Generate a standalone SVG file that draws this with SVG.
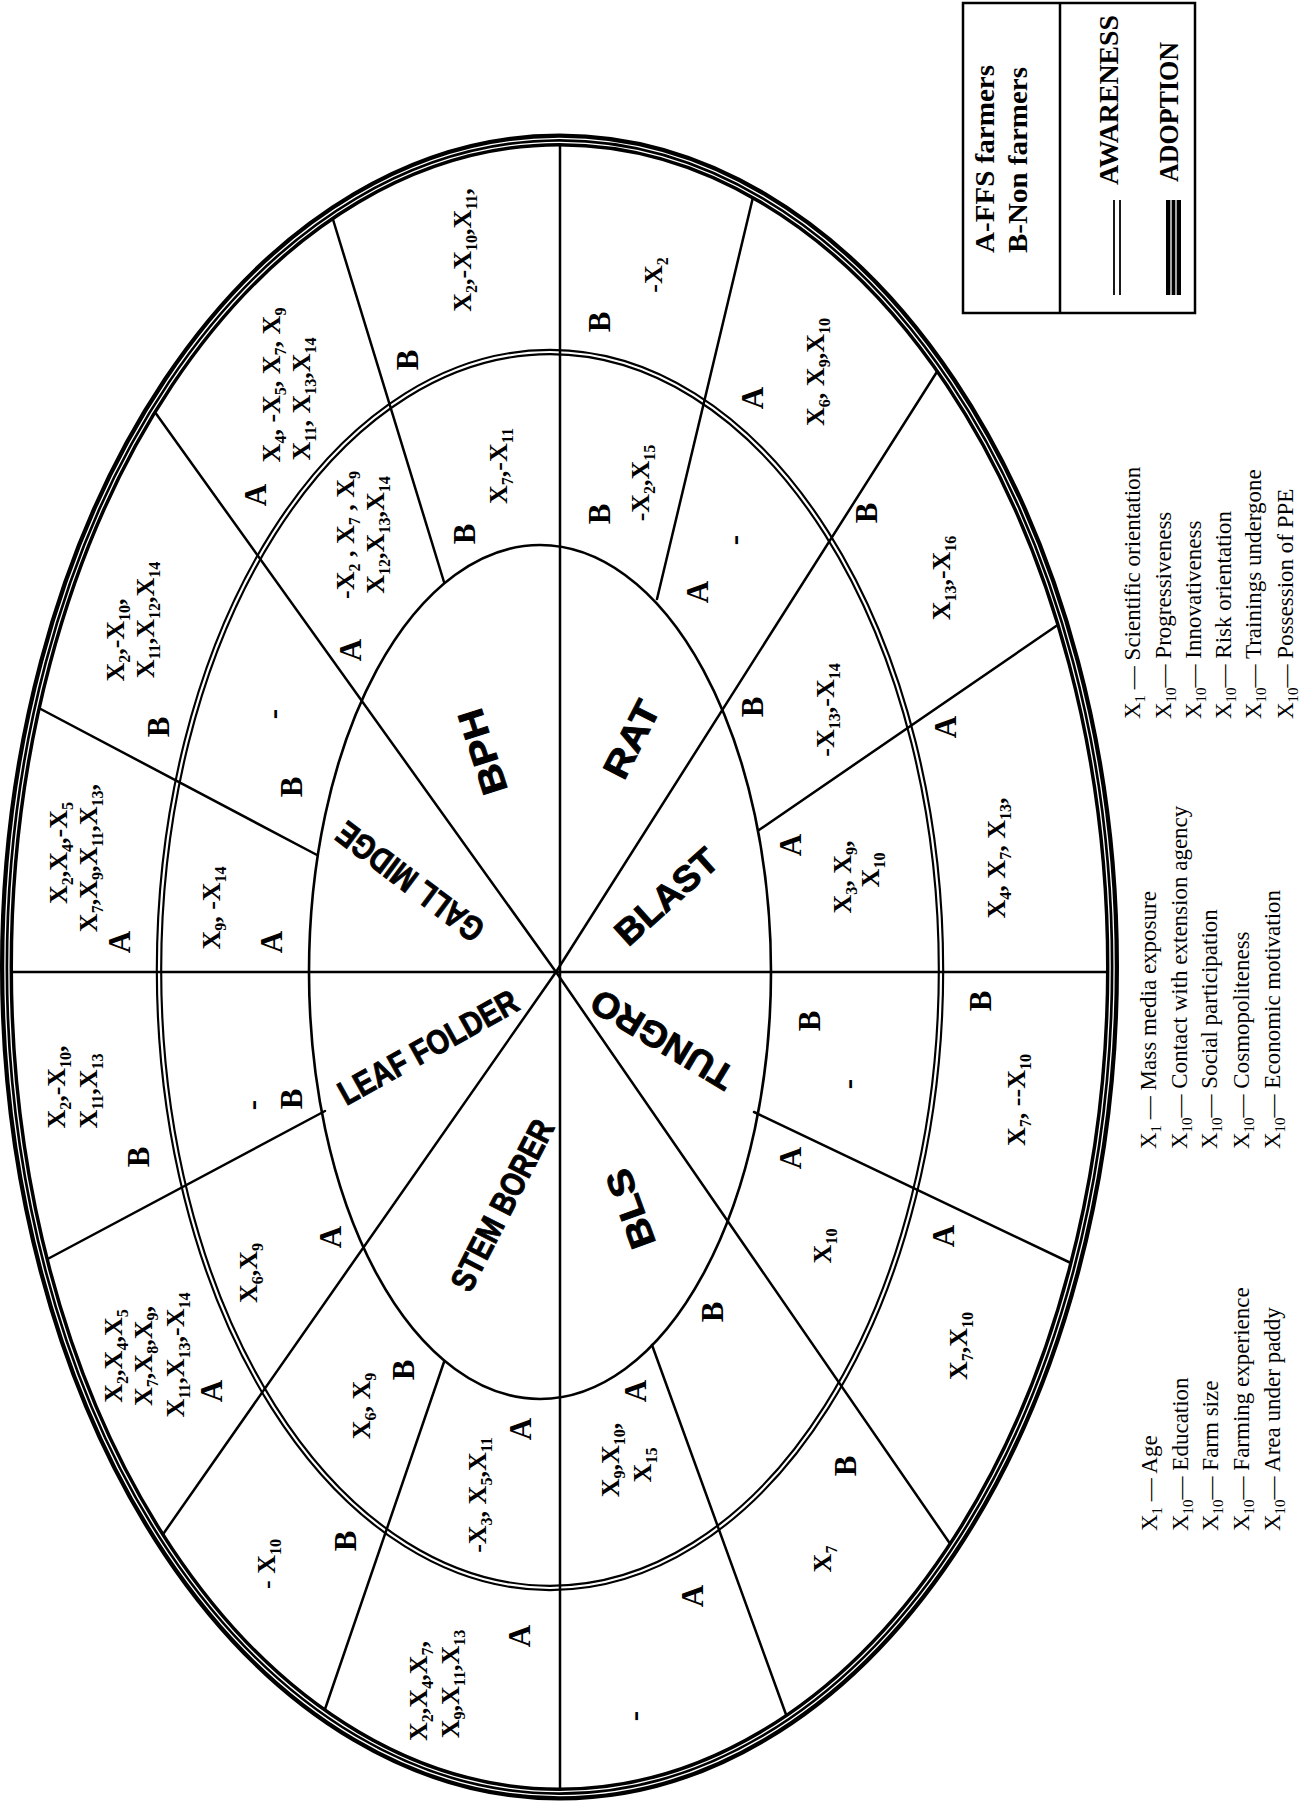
<svg xmlns="http://www.w3.org/2000/svg" width="1313" height="1809" viewBox="0 0 1313 1809">
<style>
.t{font-family:"Liberation Serif","Times New Roman",serif;font-weight:700;font-size:26px;text-anchor:middle;fill:#000}
.ab{font-size:31px}
.s{font-size:16px}
.lbl{font-family:"Liberation Sans",Arial,sans-serif;font-weight:700;font-size:36px;text-anchor:middle;fill:#000;stroke:#000;stroke-width:0.9}
.lb{font-family:"Liberation Serif","Times New Roman",serif;font-weight:700;font-size:28px;text-anchor:middle;fill:#000}
.lg{font-family:"Liberation Serif","Times New Roman",serif;font-size:23px;text-anchor:start;fill:#000}
.ls{font-size:15px}
.ln{stroke:#000;stroke-width:2.5;fill:none;stroke-linecap:round}
.bk{fill:none;stroke:#000}
.wh{fill:none;stroke:#fff}
</style>
<rect width="1313" height="1809" fill="#fff"/>
<g id="rings-under">
<ellipse class="bk" cx="550" cy="970" rx="391" ry="618" stroke-width="6.5"/>
<ellipse class="wh" cx="550" cy="970" rx="391" ry="618" stroke-width="2.2"/>
<ellipse class="bk" cx="540" cy="972" rx="231" ry="427" stroke-width="2.6"/>
</g>
<g id="connectors">
<line class="ln" x1="560" y1="140" x2="560" y2="1794"/>
<line class="ln" x1="7" y1="972" x2="1112" y2="972"/>
<line class="ln" x1="556" y1="972" x2="152" y2="408"/>
<line class="ln" x1="556" y1="972" x2="940" y2="367"/>
<line class="ln" x1="556" y1="972" x2="953" y2="1548"/>
<line class="ln" x1="556" y1="972" x2="159" y2="1540"/>
<line class="ln" x1="444" y1="582" x2="331" y2="213"/>
<line class="ln" x1="657" y1="599" x2="754" y2="193"/>
<line class="ln" x1="759" y1="830" x2="1062" y2="622"/>
<line class="ln" x1="754" y1="1112" x2="1075" y2="1265"/>
<line class="ln" x1="652" y1="1345" x2="788" y2="1720"/>
<line class="ln" x1="444" y1="1362" x2="323" y2="1715"/>
<line class="ln" x1="325" y1="1111" x2="42" y2="1262"/>
<line class="ln" x1="317" y1="855" x2="35" y2="706"/>
</g>
<g id="outer-ring">
<ellipse class="bk" cx="559.5" cy="967" rx="553" ry="827" stroke-width="13"/>
<ellipse class="wh" cx="559.5" cy="967" rx="554.6" ry="828.6" stroke-width="1.3"/>
<ellipse class="wh" cx="559.5" cy="967" rx="550.6" ry="824.6" stroke-width="1.3"/>
</g>

<g id="sector-bph">
<text class="lbl" transform="translate(482,752) rotate(-108)" dy="13" textLength="88" lengthAdjust="spacingAndGlyphs">BPH</text>
<text class="t" transform="translate(280,385) rotate(-90)">X<tspan class="s" dy="6">4</tspan><tspan dy="-6">, -X</tspan><tspan class="s" dy="6">5</tspan><tspan dy="-6">, X</tspan><tspan class="s" dy="6">7</tspan><tspan dy="-6">, X</tspan><tspan class="s" dy="6">9</tspan></text>
<text class="t" transform="translate(310,399) rotate(-90)">X<tspan class="s" dy="6">11</tspan><tspan dy="-6">, X</tspan><tspan class="s" dy="6">13</tspan><tspan dy="-6">,X</tspan><tspan class="s" dy="6">14</tspan></text>
<text class="t ab" transform="translate(266,495) rotate(-90)">A</text>
<text class="t ab" transform="translate(418,360) rotate(-90)">B</text>
<text class="t" transform="translate(471,250) rotate(-90)">X<tspan class="s" dy="6">2</tspan><tspan dy="-6">,-X</tspan><tspan class="s" dy="6">10</tspan><tspan dy="-6">,X</tspan><tspan class="s" dy="6">11</tspan><tspan dy="-6">,</tspan></text>
<text class="t" transform="translate(354,535) rotate(-90)">-X<tspan class="s" dy="6">2</tspan><tspan dy="-6"> , X</tspan><tspan class="s" dy="6">7</tspan><tspan dy="-6"> , X</tspan><tspan class="s" dy="6">9</tspan></text>
<text class="t" transform="translate(384,535) rotate(-90)">X<tspan class="s" dy="6">12</tspan><tspan dy="-6">,X</tspan><tspan class="s" dy="6">13</tspan><tspan dy="-6">,X</tspan><tspan class="s" dy="6">14</tspan></text>
<text class="t ab" transform="translate(361,650) rotate(-90)">A</text>
<text class="t ab" transform="translate(475,534) rotate(-90)">B</text>
<text class="t" transform="translate(507,466) rotate(-90)">X<tspan class="s" dy="6">7</tspan><tspan dy="-6">,-X</tspan><tspan class="s" dy="6">11</tspan></text>
</g>

<g id="sector-rat">
<text class="lbl" transform="translate(631,739) rotate(-63)" dy="13" textLength="82" lengthAdjust="spacingAndGlyphs">RAT</text>
<text class="t ab" transform="translate(610,322) rotate(-90)">B</text>
<text class="t" transform="translate(662,275) rotate(-90)">-X<tspan class="s" dy="6">2</tspan></text>
<text class="t ab" transform="translate(763,398) rotate(-90)">A</text>
<text class="t" transform="translate(824,372) rotate(-90)">X<tspan class="s" dy="6">6</tspan><tspan dy="-6">, X</tspan><tspan class="s" dy="6">9</tspan><tspan dy="-6">,X</tspan><tspan class="s" dy="6">10</tspan></text>
<text class="t ab" transform="translate(610,514) rotate(-90)">B</text>
<text class="t" transform="translate(649,483) rotate(-90)">-X<tspan class="s" dy="6">2</tspan><tspan dy="-6">,X</tspan><tspan class="s" dy="6">15</tspan></text>
<text class="t ab" transform="translate(708,592) rotate(-90)">A</text>
<text class="t ab" transform="translate(744,540) rotate(-90)">-</text>
</g>

<g id="sector-blast">
<text class="lbl" transform="translate(666,896) rotate(-42)" dy="13" textLength="125" lengthAdjust="spacingAndGlyphs">BLAST</text>
<text class="t ab" transform="translate(877,513) rotate(-90)">B</text>
<text class="t" transform="translate(950,578) rotate(-90)">X<tspan class="s" dy="6">13</tspan><tspan dy="-6">,-X</tspan><tspan class="s" dy="6">16</tspan></text>
<text class="t ab" transform="translate(956,727) rotate(-90)">A</text>
<text class="t" transform="translate(1005,858) rotate(-90)">X<tspan class="s" dy="6">4</tspan><tspan dy="-6">, X</tspan><tspan class="s" dy="6">7</tspan><tspan dy="-6">, X</tspan><tspan class="s" dy="6">13</tspan><tspan dy="-6">,</tspan></text>
<text class="t ab" transform="translate(763,707) rotate(-90)">B</text>
<text class="t" transform="translate(834,710) rotate(-90)">-X<tspan class="s" dy="6">13</tspan><tspan dy="-6">,-X</tspan><tspan class="s" dy="6">14</tspan></text>
<text class="t ab" transform="translate(801,845) rotate(-90)">A</text>
<text class="t" transform="translate(851,877) rotate(-90)">X<tspan class="s" dy="6">3</tspan><tspan dy="-6">, X</tspan><tspan class="s" dy="6">9</tspan><tspan dy="-6">,</tspan></text>
<text class="t" transform="translate(879,870) rotate(-90)">X<tspan class="s" dy="6">10</tspan></text>
</g>

<g id="sector-tungro">
<text class="lbl" transform="translate(662,1040) rotate(211)" dy="13" textLength="160" lengthAdjust="spacingAndGlyphs">TUNGRO</text>
<text class="t ab" transform="translate(991,1001) rotate(-90)">B</text>
<text class="t" transform="translate(1025,1100) rotate(-90)">X<tspan class="s" dy="6">7</tspan><tspan dy="-6">, --X</tspan><tspan class="s" dy="6">10</tspan></text>
<text class="t ab" transform="translate(954,1236) rotate(-90)">A</text>
<text class="t" transform="translate(967,1346) rotate(-90)">X<tspan class="s" dy="6">7</tspan><tspan dy="-6">,X</tspan><tspan class="s" dy="6">10</tspan></text>
<text class="t ab" transform="translate(820,1021) rotate(-90)">B</text>
<text class="t ab" transform="translate(858,1084) rotate(-90)">-</text>
<text class="t ab" transform="translate(801,1158) rotate(-90)">A</text>
<text class="t" transform="translate(831,1246) rotate(-90)">X<tspan class="s" dy="6">10</tspan></text>
</g>

<g id="sector-bls">
<text class="lbl" transform="translate(630,1209) rotate(-110)" dy="13" textLength="82" lengthAdjust="spacingAndGlyphs">BLS</text>
<text class="t ab" transform="translate(644,1716) rotate(-90)">-</text>
<text class="t ab" transform="translate(703,1596) rotate(-90)">A</text>
<text class="t" transform="translate(831,1559) rotate(-90)">X<tspan class="s" dy="6">7</tspan></text>
<text class="t ab" transform="translate(856,1466) rotate(-90)">B</text>
<text class="t ab" transform="translate(646,1391) rotate(-90)">A</text>
<text class="t" transform="translate(619,1460) rotate(-90)">X<tspan class="s" dy="6">9</tspan><tspan dy="-6">,X</tspan><tspan class="s" dy="6">10</tspan><tspan dy="-6">,</tspan></text>
<text class="t" transform="translate(651,1465) rotate(-90)">X<tspan class="s" dy="6">15</tspan></text>
<text class="t ab" transform="translate(723,1312) rotate(-90)">B</text>
</g>

<g id="sector-stem-borer">
<text class="lbl" transform="translate(502,1205) rotate(-63)" dy="12" textLength="187" lengthAdjust="spacingAndGlyphs" style="font-size:34px">STEM BORER</text>
<text class="t" transform="translate(275,1564) rotate(-90)">- X<tspan class="s" dy="6">10</tspan></text>
<text class="t ab" transform="translate(356,1541) rotate(-90)">B</text>
<text class="t" transform="translate(427,1691) rotate(-90)">X<tspan class="s" dy="6">2</tspan><tspan dy="-6">,X</tspan><tspan class="s" dy="6">4</tspan><tspan dy="-6">,X</tspan><tspan class="s" dy="6">7</tspan><tspan dy="-6">,</tspan></text>
<text class="t" transform="translate(459,1684) rotate(-90)">X<tspan class="s" dy="6">9</tspan><tspan dy="-6">,X</tspan><tspan class="s" dy="6">11</tspan><tspan dy="-6">,X</tspan><tspan class="s" dy="6">13</tspan></text>
<text class="t ab" transform="translate(530,1636) rotate(-90)">A</text>
<text class="t" transform="translate(370,1406) rotate(-90)">X<tspan class="s" dy="6">6</tspan><tspan dy="-6">, X</tspan><tspan class="s" dy="6">9</tspan></text>
<text class="t ab" transform="translate(414,1370) rotate(-90)">B</text>
<text class="t" transform="translate(486,1495) rotate(-90)">-X<tspan class="s" dy="6">3</tspan><tspan dy="-6">, X</tspan><tspan class="s" dy="6">5</tspan><tspan dy="-6">,X</tspan><tspan class="s" dy="6">11</tspan></text>
<text class="t ab" transform="translate(531,1429) rotate(-90)">A</text>
</g>

<g id="sector-leaf-folder">
<text class="lbl" transform="translate(428,1047) rotate(-29)" dy="12" textLength="200" lengthAdjust="spacingAndGlyphs" style="font-size:34px">LEAF FOLDER</text>
<text class="t" transform="translate(65,1087) rotate(-90)">X<tspan class="s" dy="6">2</tspan><tspan dy="-6">,-X</tspan><tspan class="s" dy="6">10</tspan><tspan dy="-6">,</tspan></text>
<text class="t" transform="translate(97,1091) rotate(-90)">X<tspan class="s" dy="6">11</tspan><tspan dy="-6">,X</tspan><tspan class="s" dy="6">13</tspan></text>
<text class="t ab" transform="translate(149,1157) rotate(-90)">B</text>
<text class="t" transform="translate(122,1356) rotate(-90)">X<tspan class="s" dy="6">2</tspan><tspan dy="-6">,X</tspan><tspan class="s" dy="6">4</tspan><tspan dy="-6">,X</tspan><tspan class="s" dy="6">5</tspan></text>
<text class="t" transform="translate(152,1356) rotate(-90)">X<tspan class="s" dy="6">7</tspan><tspan dy="-6">,X</tspan><tspan class="s" dy="6">8</tspan><tspan dy="-6">,X</tspan><tspan class="s" dy="6">9</tspan><tspan dy="-6">,</tspan></text>
<text class="t" transform="translate(184,1355) rotate(-90)">X<tspan class="s" dy="6">11</tspan><tspan dy="-6">,X</tspan><tspan class="s" dy="6">13</tspan><tspan dy="-6">,-X</tspan><tspan class="s" dy="6">14</tspan></text>
<text class="t ab" transform="translate(222,1391) rotate(-90)">A</text>
<text class="t ab" transform="translate(262,1105) rotate(-90)">-</text>
<text class="t ab" transform="translate(302,1099) rotate(-90)">B</text>
<text class="t" transform="translate(257,1273) rotate(-90)">X<tspan class="s" dy="6">6</tspan><tspan dy="-6">,X</tspan><tspan class="s" dy="6">9</tspan></text>
<text class="t ab" transform="translate(341,1237) rotate(-90)">A</text>
</g>

<g id="sector-gall-midge">
<text class="lbl" transform="translate(410,882) rotate(217)" dy="12" textLength="175" lengthAdjust="spacingAndGlyphs" style="font-size:34px">GALL MIDGE</text>
<text class="t" transform="translate(124,640) rotate(-90)">X<tspan class="s" dy="6">2</tspan><tspan dy="-6">,-X</tspan><tspan class="s" dy="6">10</tspan><tspan dy="-6">,</tspan></text>
<text class="t" transform="translate(154,620) rotate(-90)">X<tspan class="s" dy="6">11</tspan><tspan dy="-6">,X</tspan><tspan class="s" dy="6">12</tspan><tspan dy="-6">,X</tspan><tspan class="s" dy="6">14</tspan></text>
<text class="t ab" transform="translate(169,727) rotate(-90)">B</text>
<text class="t" transform="translate(67,853) rotate(-90)">X<tspan class="s" dy="6">2</tspan><tspan dy="-6">,X</tspan><tspan class="s" dy="6">4</tspan><tspan dy="-6">,-X</tspan><tspan class="s" dy="6">5</tspan></text>
<text class="t" transform="translate(97,858) rotate(-90)">X<tspan class="s" dy="6">7</tspan><tspan dy="-6">,X</tspan><tspan class="s" dy="6">9</tspan><tspan dy="-6">,X</tspan><tspan class="s" dy="6">11</tspan><tspan dy="-6">,X</tspan><tspan class="s" dy="6">13</tspan><tspan dy="-6">,</tspan></text>
<text class="t ab" transform="translate(130,942) rotate(-90)">A</text>
<text class="t ab" transform="translate(283,714) rotate(-90)">-</text>
<text class="t ab" transform="translate(302,787) rotate(-90)">B</text>
<text class="t" transform="translate(220,908) rotate(-90)">X<tspan class="s" dy="6">9</tspan><tspan dy="-6">, -X</tspan><tspan class="s" dy="6">14</tspan></text>
<text class="t ab" transform="translate(282,942) rotate(-90)">A</text>
</g>

<g id="legend-key">
<rect x="963" y="3" width="232" height="310" fill="none" stroke="#000" stroke-width="2.5"/>
<line x1="1060" y1="3" x2="1060" y2="313" stroke="#000" stroke-width="2.5"/>
<text class="lb" transform="translate(994,159) rotate(-90)" textLength="188" lengthAdjust="spacingAndGlyphs">A-FFS farmers</text>
<text class="lb" transform="translate(1027,160) rotate(-90)" textLength="186" lengthAdjust="spacingAndGlyphs">B-Non farmers</text>
<text class="lb" transform="translate(1118,100) rotate(-90)" textLength="170" lengthAdjust="spacingAndGlyphs">AWARENESS</text>
<text class="lb" transform="translate(1178,112) rotate(-90)" textLength="140" lengthAdjust="spacingAndGlyphs">ADOPTION</text>
<line x1="1114" y1="200" x2="1114" y2="295" stroke="#000" stroke-width="1.8"/>
<line x1="1120" y1="200" x2="1120" y2="295" stroke="#000" stroke-width="1.8"/>
<rect x="1166" y="200" width="15" height="95" fill="#000"/>
<line x1="1171" y1="200" x2="1171" y2="295" stroke="#fff" stroke-width="1.3"/>
<line x1="1176" y1="200" x2="1176" y2="295" stroke="#fff" stroke-width="1.3"/>
</g>

<g id="legend-variables-1">
<text class="lg" transform="translate(1140,719) rotate(-90)">X<tspan class="ls" dy="5">1</tspan><tspan dy="-5"> — Scientific orientation</tspan></text>
<text class="lg" transform="translate(1171,719) rotate(-90)">X<tspan class="ls" dy="5">10</tspan><tspan dy="-5">— Progressiveness</tspan></text>
<text class="lg" transform="translate(1201,719) rotate(-90)">X<tspan class="ls" dy="5">10</tspan><tspan dy="-5">— Innovativeness</tspan></text>
<text class="lg" transform="translate(1231,719) rotate(-90)">X<tspan class="ls" dy="5">10</tspan><tspan dy="-5">— Risk orientation</tspan></text>
<text class="lg" transform="translate(1261,719) rotate(-90)">X<tspan class="ls" dy="5">10</tspan><tspan dy="-5">— Trainings undergone</tspan></text>
<text class="lg" transform="translate(1293,719) rotate(-90)">X<tspan class="ls" dy="5">10</tspan><tspan dy="-5">— Possession of PPE</tspan></text>
</g>
<g id="legend-variables-2">
<text class="lg" transform="translate(1156,1149) rotate(-90)">X<tspan class="ls" dy="5">1</tspan><tspan dy="-5"> — Mass media exposure</tspan></text>
<text class="lg" transform="translate(1187,1149) rotate(-90)">X<tspan class="ls" dy="5">10</tspan><tspan dy="-5">— Contact with extension agency</tspan></text>
<text class="lg" transform="translate(1217,1149) rotate(-90)">X<tspan class="ls" dy="5">10</tspan><tspan dy="-5">— Social participation</tspan></text>
<text class="lg" transform="translate(1249,1149) rotate(-90)">X<tspan class="ls" dy="5">10</tspan><tspan dy="-5">— Cosmopoliteness</tspan></text>
<text class="lg" transform="translate(1280,1149) rotate(-90)">X<tspan class="ls" dy="5">10</tspan><tspan dy="-5">— Economic motivation</tspan></text>
</g>
<g id="legend-variables-3">
<text class="lg" transform="translate(1157,1531) rotate(-90)">X<tspan class="ls" dy="5">1</tspan><tspan dy="-5"> — Age</tspan></text>
<text class="lg" transform="translate(1188,1531) rotate(-90)">X<tspan class="ls" dy="5">10</tspan><tspan dy="-5">— Education</tspan></text>
<text class="lg" transform="translate(1218,1531) rotate(-90)">X<tspan class="ls" dy="5">10</tspan><tspan dy="-5">— Farm size</tspan></text>
<text class="lg" transform="translate(1249,1531) rotate(-90)">X<tspan class="ls" dy="5">10</tspan><tspan dy="-5">— Farming experience</tspan></text>
<text class="lg" transform="translate(1280,1531) rotate(-90)">X<tspan class="ls" dy="5">10</tspan><tspan dy="-5">— Area under paddy</tspan></text>
</g>
</svg>
